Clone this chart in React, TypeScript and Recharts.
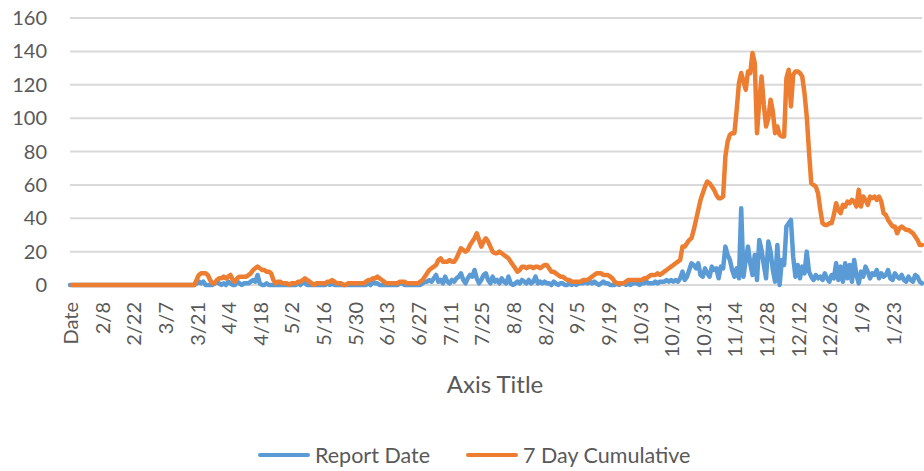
import { CartesianGrid, Line, LineChart, XAxis, YAxis } from "recharts";

// x-axis labels, one every 14 days (the first row of the sheet is the header "Date")
const TICK_LABELS = [
  "Date", "2/8", "2/22", "3/7", "3/21", "4/4", "4/18", "5/2", "5/16", "5/30",
  "6/13", "6/27", "7/11", "7/25", "8/8", "8/22", "9/5", "9/19", "10/3", "10/17",
  "10/31", "11/14", "11/28", "12/12", "12/26", "1/9", "1/23",
];
const Y_TICKS = [0, 20, 40, 60, 80, 100, 120, 140, 160];

// daily counts, one row per fortnight
const REPORT_DATE = [
  0, 0, 0, 0, 0, 0, 0, 0, 0, 0, 0, 0, 0, 0,
  0, 0, 0, 0, 0, 0, 0, 0, 0, 0, 0, 0, 0, 0,
  0, 0, 0, 0, 0, 0, 0, 0, 0, 0, 0, 0, 0, 0,
  0, 0, 0, 0, 0, 0, 0, 0, 0, 0, 0, 0, 0, 0,
  1, 2, 1, 2, 0, 0, 0, 0, 1, 2, 1, 0, 1, 0,
  2, 1, 0, 0, 2, 1, 0, 1, 1, 1, 2, 3, 2, 6,
  1, 0, 0, 1, 0, 0, 0, 0, 0, 0, 0, 0, 0, 0,
  0, 0, 0, 1, 0, 2, 1, 0, 0, 0, 0, 0, 0, 0,
  0, 0, 1, 0, 1, 0, 0, 0, 0, 0, 0, 0, 0, 0,
  0, 0, 0, 0, 0, 0, 1, 0, 2, 1, 1, 0, 0, 0,
  0, 0, 0, 0, 0, 0, 1, 1, 0, 0, 0, 0, 0, 0,
  0, 0, 1, 2, 2, 3, 2, 4, 6, 2, 3, 1, 5, 2,
  1, 3, 2, 4, 5, 7, 3, 1, 4, 6, 5, 9, 4, 1,
  3, 6, 7, 3, 1, 5, 2, 3, 1, 4, 2, 1, 5, 1,
  0, 1, 2, 1, 3, 2, 1, 3, 1, 2, 5, 1, 2, 1,
  2, 1, 1, 0, 2, 1, 0, 1, 1, 0, 0, 1, 0, 1,
  0, 1, 1, 1, 2, 1, 2, 1, 2, 1, 0, 1, 2, 1,
  1, 0, 0, 0, 1, 0, 1, 1, 0, 1, 0, 1, 1, 1,
  0, 1, 1, 2, 1, 1, 1, 2, 1, 2, 2, 2, 3, 2,
  3, 2, 3, 2, 4, 8, 3, 5, 9, 13, 12, 10, 13, 6,
  5, 10, 7, 5, 11, 9, 10, 4, 11, 10, 23, 18, 15, 9,
  5, 10, 4, 46, 5, 15, 23, 13, 6, 18, 3, 27, 21, 12,
  4, 26, 20, 9, 2, 24, 0, 15, 12, 35, 37, 39, 17, 5,
  12, 4, 11, 7, 20, 8, 5, 3, 6, 4, 5, 3, 7, 4,
  2, 6, 4, 13, 3, 11, 2, 13, 4, 12, 2, 15, 6, 1,
  8, 5, 11, 8, 4, 7, 6, 9, 4, 7, 5, 6, 9, 4,
  3, 7, 5, 4, 6, 3, 2, 5, 3, 2, 6, 5, 2, 1,
];

const SEVEN_DAY = [
  null, 0, 0, 0, 0, 0, 0, 0, 0, 0, 0, 0, 0, 0,
  0, 0, 0, 0, 0, 0, 0, 0, 0, 0, 0, 0, 0, 0,
  0, 0, 0, 0, 0, 0, 0, 0, 0, 0, 0, 0, 0, 0,
  0, 0, 0, 0, 0, 0, 0, 0, 0, 0, 0, 0, 0, 0,
  3, 6, 7, 7, 7, 6, 3, 1, 1, 3, 4, 4, 5, 4,
  5, 6, 3, 2, 4, 5, 5, 5, 5, 6, 7, 9, 10, 11,
  10, 9, 9, 8, 8, 7, 3, 1, 2, 2, 1, 1, 1, 0,
  1, 1, 1, 2, 2, 3, 4, 3, 2, 1, 0, 1, 1, 1,
  1, 1, 2, 2, 3, 2, 1, 1, 1, 0, 0, 1, 1, 1,
  1, 1, 1, 1, 1, 2, 3, 3, 4, 4, 5, 4, 3, 2,
  1, 1, 1, 1, 1, 1, 2, 2, 2, 1, 1, 1, 1, 1,
  1, 2, 3, 5, 7, 9, 10, 11, 12, 15, 16, 14, 14, 14,
  15, 14, 14, 16, 19, 22, 21, 20, 21, 24, 26, 28, 31, 27,
  23, 26, 28, 26, 23, 20, 19, 19, 20, 19, 18, 17, 16, 14,
  12, 10, 8, 9, 11, 11, 10, 11, 11, 10, 11, 11, 10, 11,
  12, 12, 10, 8, 8, 7, 6, 5, 5, 4, 3, 3, 2, 2,
  2, 2, 2, 3, 3, 3, 4, 5, 6, 7, 7, 7, 6, 6,
  6, 5, 4, 2, 1, 1, 1, 1, 2, 3, 3, 3, 3, 3,
  3, 3, 4, 4, 5, 6, 6, 6, 7, 6, 7, 8, 9, 10,
  11, 12, 13, 14, 15, 23, 23, 25, 27, 28, 33, 39, 45, 51,
  55, 59, 62, 61, 59, 57, 54, 52, 52, 53, 77, 86, 90, 91,
  91, 105, 121, 127, 122, 117, 128, 127, 139, 133, 91, 110, 125, 108,
  95, 100, 111, 104, 91, 95, 90, 89, 89, 124, 129, 107, 126, 128,
  128, 127, 125, 115, 101, 80, 61, 60, 59, 55, 45, 37, 36, 36,
  37, 37, 42, 49, 45, 43, 48, 47, 50, 49, 51, 50, 47, 57,
  47, 53, 51, 48, 53, 52, 53, 51, 53, 50, 43, 42, 39, 37,
  35, 35, 31, 34, 35, 34, 33, 33, 32, 31, 29, 27, 24, 24,
];

const FONT = 'Lato, "Open Sans", sans-serif';
const INK = "#595959";
const BLUE = "#5B9BD5";
const ORANGE = "#ED7D31";
const GRID = "#D9D9D9";

// row 0 is the header, row 1 is 1/26/2020
function dayLabel(i: number) {
  if (i === 0) return "Date";
  const d = new Date(Date.UTC(2020, 0, 25 + i));
  return `${d.getUTCMonth() + 1}/${d.getUTCDate()}`;
}

const data = REPORT_DATE.map((v, i) => ({
  idx: i,
  day: dayLabel(i),
  report: v,
  cumulative: SEVEN_DAY[i],
}));

const X_TICKS = TICK_LABELS.map((_, k) => k * 14);

function XTick(props: any) {
  const { x, y, payload } = props;
  return (
    <text
      transform={`translate(${x},${y + 9}) rotate(-90)`}
      textAnchor="end"
      dominantBaseline="central"
      fill={INK}
      fontSize={20}
      fontFamily={FONT}
    >
      {TICK_LABELS[Math.round(payload.value / 14)]}
    </text>
  );
}

function LegendItem({ color, label }: { color: string; label: string }) {
  return (
    <span style={{ display: "inline-flex", alignItems: "center", marginRight: 36 }}>
      <span
        style={{ width: 52, height: 4, borderRadius: 2, background: color, marginRight: 5 }}
      />
      {label}
    </span>
  );
}

export default function App() {
  return (
    <div
      style={{
        position: "absolute",
        top: 0,
        left: 0,
        width: 924,
        height: 471,
        background: "#fff",
        fontFamily: FONT,
      }}
    >
      <LineChart
        width={924}
        height={471}
        data={data}
        margin={{ top: 18, right: 2, bottom: 116, left: 0 }}
      >
        <CartesianGrid stroke={GRID} strokeWidth={2} vertical={false} />
        <XAxis
          dataKey="idx"
          type="number"
          domain={[0, REPORT_DATE.length - 1]}
          ticks={X_TICKS}
          interval={0}
          height={70}
          tick={<XTick />}
          tickLine={false}
          axisLine={false}
        />
        <YAxis
          domain={[0, 160]}
          ticks={Y_TICKS}
          width={70}
          tickLine={false}
          axisLine={false}
          tickMargin={17}
          tick={{ fill: INK, fontSize: 20, fontFamily: FONT }}
        />
        <Line
          dataKey="report"
          name="Report Date"
          stroke={BLUE}
          strokeWidth={4.5}
          strokeLinejoin="round"
          strokeLinecap="round"
          dot={false}
          type="linear"
          isAnimationActive={false}
        />
        <Line
          dataKey="cumulative"
          name="7 Day Cumulative"
          stroke={ORANGE}
          strokeWidth={4.5}
          strokeLinejoin="round"
          strokeLinecap="round"
          dot={false}
          type="linear"
          isAnimationActive={false}
        />
      </LineChart>
      <div
        style={{
          position: "absolute",
          left: 0,
          width: 990,
          top: 369,
          textAlign: "center",
          fontSize: 24,
          color: INK,
        }}
      >
        Axis Title
      </div>
      <div
        style={{
          position: "absolute",
          left: 258,
          top: 442,
          display: "flex",
          fontSize: 21.5,
          color: INK,
          whiteSpace: "nowrap",
        }}
      >
        <LegendItem color={BLUE} label="Report Date" />
        <LegendItem color={ORANGE} label="7 Day Cumulative" />
      </div>
    </div>
  );
}
